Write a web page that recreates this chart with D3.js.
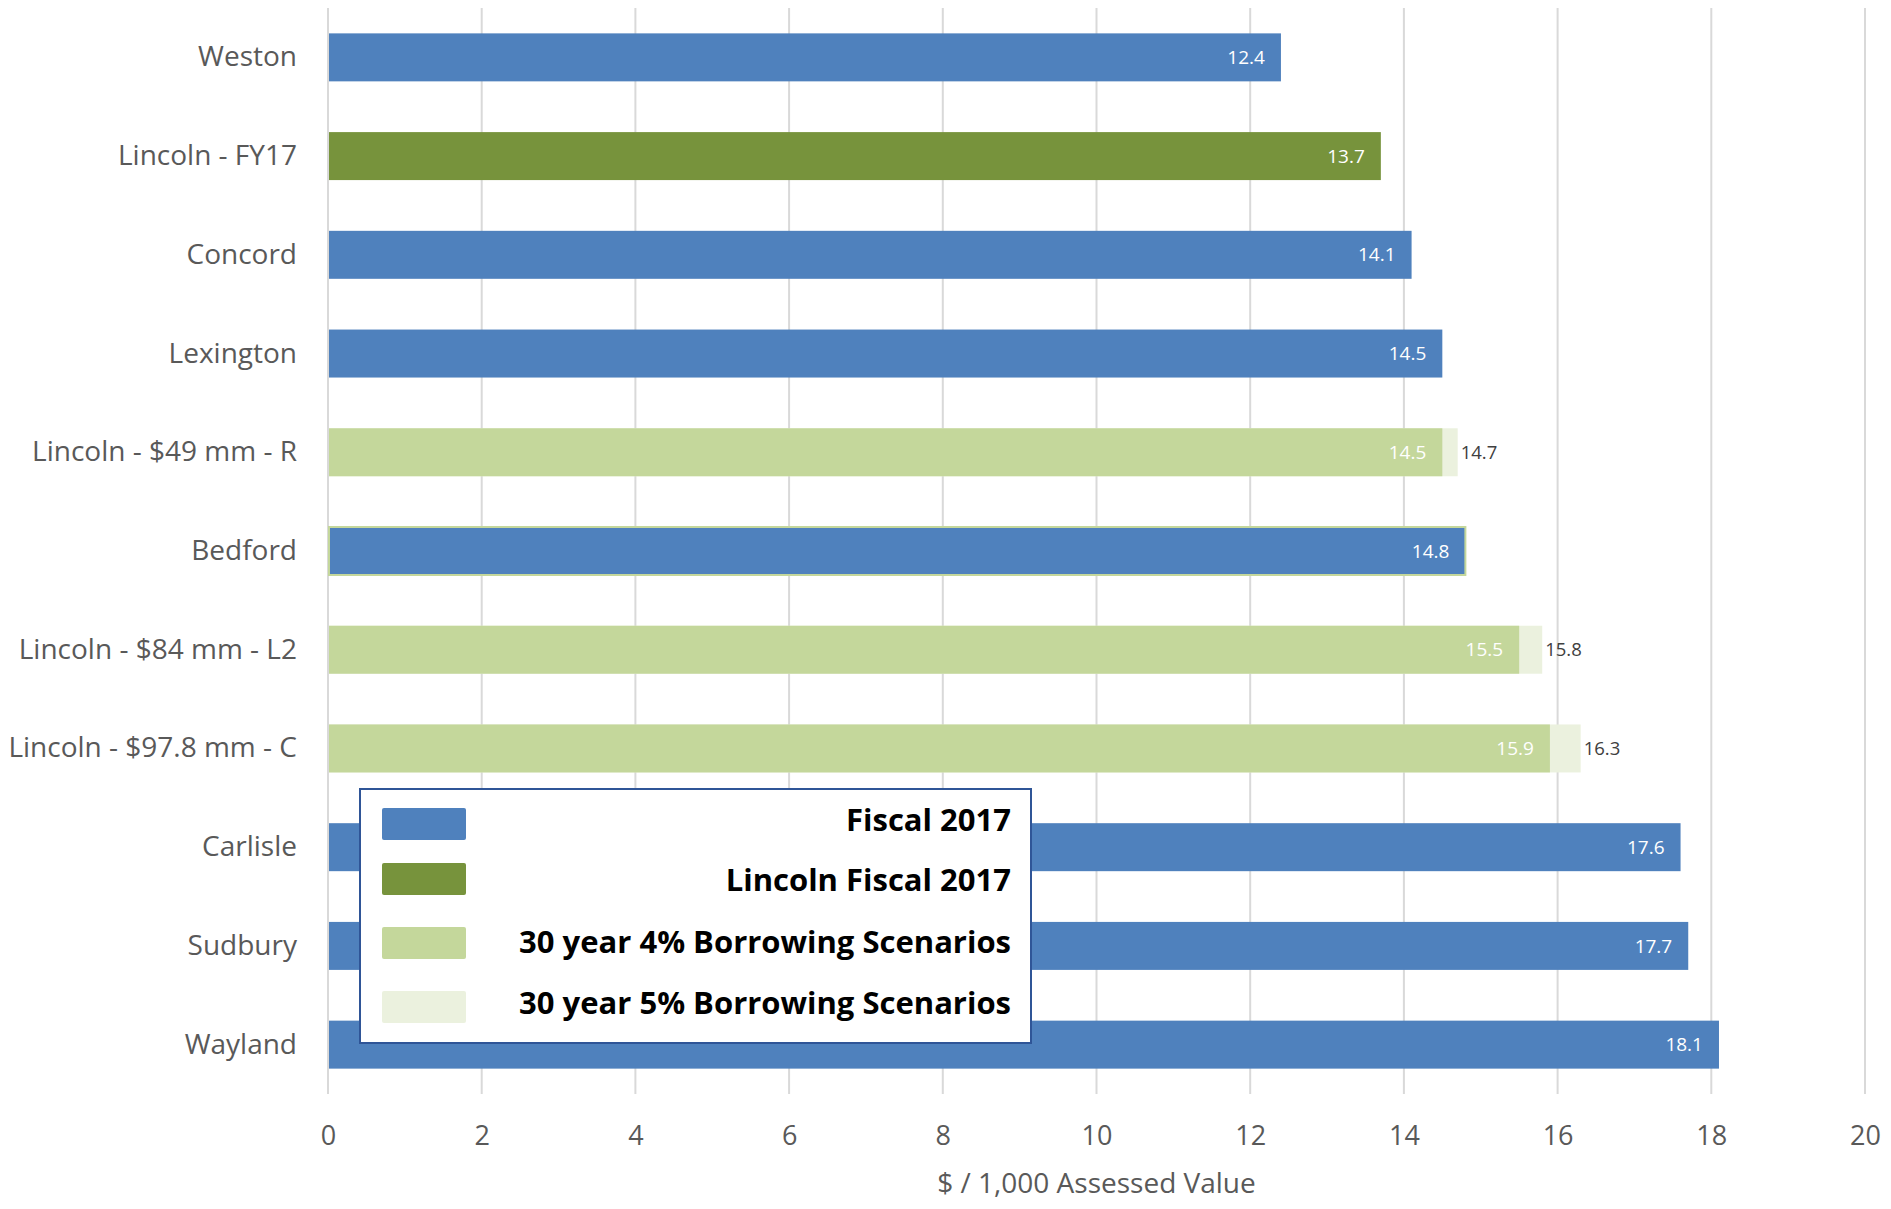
<!DOCTYPE html>
<html>
<head>
<meta charset="utf-8">
<script src="https://cdn.jsdelivr.net/npm/d3@7"></script>
<style>
  body { margin: 0; background: #fff; }
  svg text { font-family: "Open Sans", "Noto Sans", sans-serif; }
</style>
</head>
<body>
<div id="chart"></div>
<script>
// data
const categories = ["Weston", "Lincoln - FY17", "Concord", "Lexington", "Lincoln - $49 mm - R",
  "Bedford", "Lincoln - $84 mm - L2", "Lincoln - $97.8 mm - C", "Carlisle", "Sudbury", "Wayland"];
const fiscal2017 = [12.4, null, 14.1, 14.5, null, 14.8, null, null, 17.6, 17.7, 18.1];
const lincolnFiscal2017 = [null, 13.7, null, null, null, null, null, null, null, null, null];
const borrow4 = [null, null, null, null, 14.5, null, 15.5, 15.9, null, null, null];
const borrow5 = [null, null, null, null, 14.7, null, 15.8, 16.3, null, null, null];
const xTicks = [0, 2, 4, 6, 8, 10, 12, 14, 16, 18, 20];
const legendNames = ["Fiscal 2017", "Lincoln Fiscal 2017", "30 year 4% Borrowing Scenarios", "30 year 5% Borrowing Scenarios"];

const colors = {
  fiscal: "#4f81bd",
  lincoln: "#77933c",
  b4: "#c4d79b",
  b5: "#ebf1de"
};

const w = 1891, h = 1209;
const plotLeft = 328, plotRight = 1865, plotTop = 8, plotBottom = 1094;

const svg = d3.select("#chart").append("svg")
  .attr("width", w)
  .attr("height", h);

const x = d3.scaleLinear().domain([0, 20]).range([plotLeft, plotRight]);
const y = d3.scaleBand().domain(categories).range([plotTop, plotBottom]).paddingInner(0.514).paddingOuter(0.257);

// gridlines
svg.append("g")
  .selectAll("line")
  .data(xTicks)
  .join("line")
  .attr("x1", d => x(d)).attr("x2", d => x(d))
  .attr("y1", plotTop).attr("y2", plotBottom)
  .attr("stroke", "#d9d9d9")
  .attr("stroke-width", 2);

// x axis labels
const xAxis = d3.axisBottom(x).tickValues(xTicks).tickSize(0).tickPadding(0);
const gx = svg.append("g")
  .attr("transform", `translate(0, ${plotBottom + 32})`)
  .call(xAxis);
gx.select(".domain").remove();
gx.selectAll("text")
  .attr("fill", "#595959")
  .style("font-size", "27px");

svg.append("text")
  .attr("x", (plotLeft + plotRight) / 2)
  .attr("y", 1193)
  .attr("text-anchor", "middle")
  .attr("fill", "#595959")
  .style("font-size", "28px")
  .text("$ / 1,000 Assessed Value");

// y axis labels
const yAxis = d3.axisLeft(y).tickSize(0).tickPadding(0);
const gy = svg.append("g")
  .attr("transform", `translate(${plotLeft - 31}, 0)`)
  .call(yAxis);
gy.select(".domain").remove();
gy.selectAll("text")
  .attr("fill", "#595959")
  .style("font-size", "28px");

const bars = svg.append("g");

function drawSeries(values, color) {
  const rows = categories.map((c, i) => ({ c, v: values[i] })).filter(d => d.v != null);
  bars.append("g")
    .selectAll("rect")
    .data(rows)
    .join("rect")
    .attr("x", x(0) + 1)
    .attr("y", d => y(d.c))
    .attr("width", d => x(d.v) - x(0) - 1)
    .attr("height", y.bandwidth())
    .attr("fill", color);
  return rows;
}

// 5% drawn first, 4% overlaps it
const r5 = drawSeries(borrow5, colors.b5);
const r4 = drawSeries(borrow4, colors.b4);
const rf = drawSeries(fiscal2017, colors.fiscal);
const rl = drawSeries(lincolnFiscal2017, colors.lincoln);

// Bedford bar has the light green outline in the original
bars.selectAll("rect").filter(d => d.c === "Bedford")
  .attr("stroke", colors.b4)
  .attr("stroke-width", 2);

// labels inside end
const inside = rf.concat(rl, r4);
svg.append("g")
  .selectAll("text")
  .data(inside)
  .join("text")
  .attr("x", d => x(d.v) - 16)
  .attr("y", d => y(d.c) + y.bandwidth() / 2)
  .attr("dy", "0.35em")
  .attr("text-anchor", "end")
  .attr("fill", "#fff")
  .style("font-size", "19px")
  .text(d => d.v.toFixed(1));

// labels outside end
svg.append("g")
  .selectAll("text")
  .data(r5)
  .join("text")
  .attr("x", d => x(d.v) + 3)
  .attr("y", d => y(d.c) + y.bandwidth() / 2)
  .attr("dy", "0.35em")
  .attr("fill", "#404040")
  .style("font-size", "18.5px")
  .text(d => d.v.toFixed(1));

// legend
const legend = svg.append("g").attr("id", "legend");
legend.append("rect")
  .attr("x", 360).attr("y", 789)
  .attr("width", 671).attr("height", 254)
  .attr("fill", "#fff")
  .attr("stroke", "#2f5597")
  .attr("stroke-width", 2);

const legendColors = [colors.fiscal, colors.lincoln, colors.b4, colors.b5];
const swatchY = [824, 879, 943, 1007];
const labelY = [820, 880, 942, 1003];
legendNames.forEach((name, i) => {
  legend.append("rect")
    .attr("x", 382).attr("y", swatchY[i] - 16)
    .attr("width", 84).attr("height", 32)
    .attr("rx", 2)
    .attr("fill", legendColors[i]);
  legend.append("text")
    .attr("x", 1011)
    .attr("y", labelY[i])
    .attr("dy", "0.35em")
    .attr("text-anchor", "end")
    .attr("fill", "#000")
    .style("font-size", "31px")
    .style("font-weight", "bold")
    .text(name);
});
</script>
</body>
</html>
